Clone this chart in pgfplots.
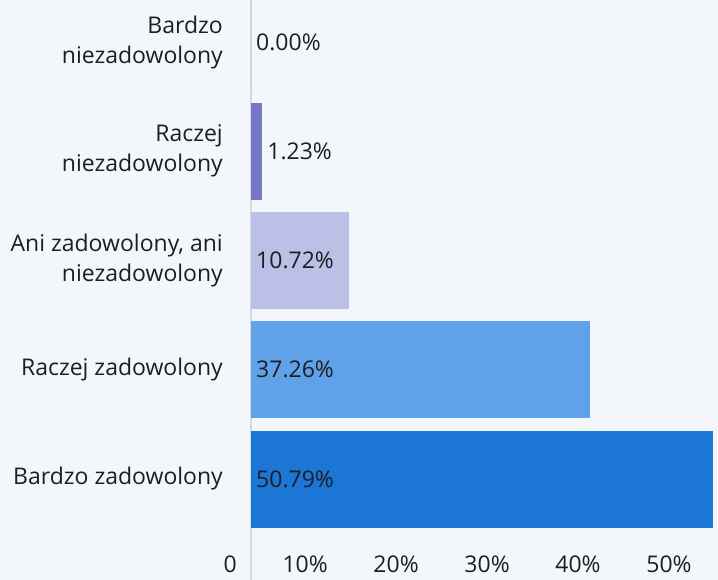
\documentclass[border=0pt]{standalone}
\usepackage{fontspec}
\setmainfont{Open Sans}
\usepackage{xcolor}
\usepackage{pgfplots}
\pgfplotsset{compat=1.18}

\definecolor{bgpaper}{HTML}{F3F7FC}
\definecolor{axisgray}{HTML}{D6DAE0}
\definecolor{txt}{HTML}{1E1E1E}
\definecolor{cA}{HTML}{7476C6}
\definecolor{cB}{HTML}{BAC0E6}
\definecolor{cC}{HTML}{5FA2EA}
\definecolor{cD}{HTML}{1B76D6}

\begin{document}
\begin{tikzpicture}
% paper background, fixes the page size (718 x 580)
\path[use as bounding box,fill=bgpaper] (-251pt,-35pt) rectangle (467pt,545pt);
\begin{axis}[
  scale only axis,
  width=462pt,height=545pt,
  xmin=0,xmax=50.79,
  ymin=-0.604,ymax=4.385,
  xbar,bar shift=0pt,bar width=97pt,
  axis line style={draw=none},
  major tick length=0pt,
  xtick={0,10,20,30,40,50},
  xticklabels={0,10\%,20\%,30\%,40\%,50\%},
  ytick={0,1,2,3,4},
  yticklabels={Bardzo zadowolony,Raczej zadowolony,{Ani zadowolony, ani\\niezadowolony},{Raczej\\niezadowolony},{Bardzo\\niezadowolony}},
  x tick label style={anchor=north east,inner sep=0pt,xshift=-14pt,yshift=-11pt,
    font=\fontsize{23}{30}\selectfont,text=txt},
  y tick label style={anchor=east,inner sep=0pt,xshift=-28pt,align=right,
    font=\fontsize{23}{30}\selectfont,text=txt},
  clip=false,
]
\draw[axisgray,line width=1.2pt] (rel axis cs:0,1) -- ([yshift=-35pt]rel axis cs:0,0);
\addplot[fill=cD,draw=none] coordinates {(50.79,0)};
\addplot[fill=cC,draw=none] coordinates {(37.26,1)};
\addplot[fill=cB,draw=none] coordinates {(10.72,2)};
\addplot[fill=cA,draw=none] coordinates {(1.23,3)};
\addplot[fill=cA,draw=none] coordinates {(0,4)};
\begin{scope}[every node/.style={anchor=west,inner sep=0pt,xshift=5pt,text=txt,font=\fontsize{23}{30}\selectfont}]
\node at (axis cs:0,0) {50.79\%};
\node at (axis cs:0,1) {37.26\%};
\node at (axis cs:0,2) {10.72\%};
\node at (axis cs:1.23,3) {1.23\%};
\node at (axis cs:0,4) {0.00\%};
\end{scope}
\end{axis}
\end{tikzpicture}
\end{document}
